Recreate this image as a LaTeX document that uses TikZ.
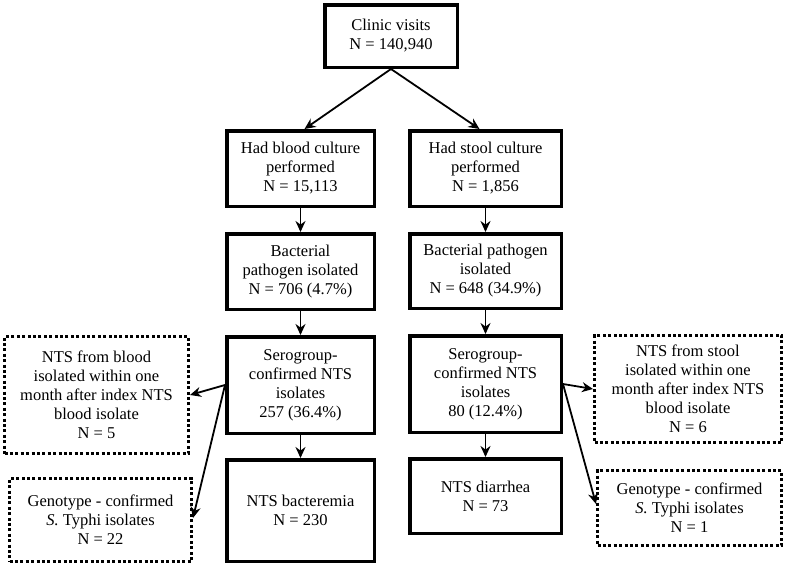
\documentclass[tikz,border=0pt]{standalone}
\usepackage{fontspec}
\setmainfont{Liberation Serif}
\usetikzlibrary{positioning,arrows.meta}

\begin{document}
\begin{tikzpicture}[
    x=1pt, y=1pt,
    font=\fontsize{16.5}{19}\selectfont,
    stage/.style={rectangle, draw=black, line width=3.5pt, inner sep=0pt, align=center},
    leftcol/.style={minimum width=147.5pt},
    rightcol/.style={minimum width=151.5pt},
    side/.style={rectangle, draw=black, line width=3pt, dash pattern=on 3pt off 2.4pt, inner sep=0pt, align=center},
    arrow/.style={-{Stealth[length=11pt,width=10pt]}, line width=1.8pt}
]
    \useasboundingbox (0,0) rectangle (785,-565);

    \node[stage, minimum width=132.5pt, minimum height=62.5pt] (clinic) at (391,-36) {
        Clinic visits \\
        N = 140,940
    };

    \node[stage, leftcol, minimum height=75.5pt, below=60pt of clinic, xshift=-90.5pt] (blood) {
        Had blood culture \\
        performed \\
        N = 15,113
    };

    \node[stage, rightcol, minimum height=75.5pt, right=32pt of blood] (stool) {
        Had stool culture \\
        performed \\
        N = 1,856
    };

    \node[stage, leftcol, minimum height=75.5pt, below=24pt of blood] (bacB) {
        Bacterial \\
        pathogen isolated \\
        N = 706 (4.7\%)
    };

    \node[stage, rightcol, minimum height=74.5pt, below=24pt of stool] (bacS) {
        Bacterial pathogen \\
        isolated \\
        N = 648 (34.9\%)
    };

    \node[stage, leftcol, minimum height=96.5pt, below=24pt of bacB] (seroB) {
        Serogroup- \\
        confirmed NTS \\
        isolates \\
        257 (36.4\%)
    };

    \node[stage, rightcol, minimum height=96.5pt, below=24pt of bacS] (seroS) {
        Serogroup- \\
        confirmed NTS \\
        isolates \\
        80 (12.4\%)
    };

    \node[stage, leftcol, minimum height=101.5pt, below=23pt of seroB] (bactm) {
        NTS bacteremia \\
        N = 230
    };

    \node[stage, rightcol, minimum height=74.5pt, below=23pt of seroS] (diarr) {
        NTS diarrhea \\
        N = 73
    };

    \node[side, minimum width=184pt, minimum height=117pt, left=35pt of seroB, yshift=-10pt] (repB) {
        NTS from blood \\
        isolated within one \\
        month after index NTS \\
        blood isolate \\
        N = 5
    };

    \node[side, minimum width=182pt, minimum height=83pt, below=22pt of repB, xshift=4pt] (typhiB) {
        Genotype - confirmed \\
        \textit{S.} Typhi isolates \\
        N = 22
    };

    \node[side, minimum width=187pt, minimum height=107pt, right=30pt of seroS, yshift=-5pt] (repS) {
        NTS from stool \\
        isolated within one \\
        month after index NTS \\
        blood isolate \\
        N = 6
    };

    \node[side, minimum width=184pt, minimum height=75pt, below=25pt of repS, xshift=1.5pt] (typhiS) {
        Genotype - confirmed \\
        \textit{S.} Typhi isolates \\
        N = 1
    };

    \draw[arrow] (clinic.south) -- ([xshift=4pt]blood.north);
    \draw[arrow] (clinic.south) -- ([xshift=-6pt]stool.north);
    \draw[arrow] (blood) -- (bacB);
    \draw[arrow] (stool) -- (bacS);
    \draw[arrow] (bacB) -- (seroB);
    \draw[arrow] (bacS) -- (seroS);
    \draw[arrow] (seroB) -- (bactm);
    \draw[arrow] (seroS) -- (diarr);

    \draw[arrow] (seroB.west) -- (repB.east);
    \draw[arrow] (seroB.west) -- ([yshift=2pt]typhiB.east);
    \draw[arrow] (seroS.east) -- (repS.west);
    \draw[arrow] (seroS.east) -- ([yshift=4pt]typhiS.west);
\end{tikzpicture}
\end{document}
